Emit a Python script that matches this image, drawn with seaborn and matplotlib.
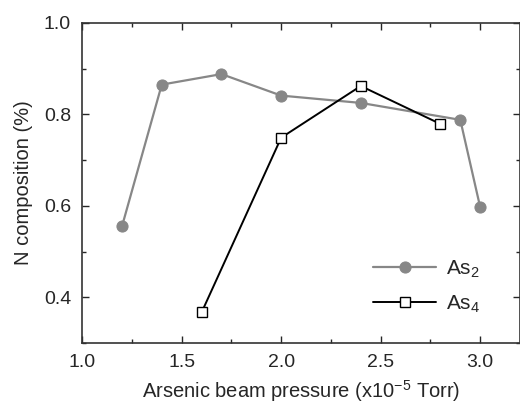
import numpy as np
import pandas as pd
import matplotlib
matplotlib.use('Agg')
import matplotlib.pyplot as plt
import seaborn as sns
from matplotlib.ticker import MultipleLocator


# Data

as2_pressure = [1.2, 1.4, 1.7, 2.0, 2.4, 2.9, 3.0]
as2_n = [0.555, 0.865, 0.888, 0.841, 0.825, 0.788, 0.597]

as4_pressure = [1.6, 2.0, 2.4, 2.8]
as4_n = [0.367, 0.749, 0.862, 0.779]


# Style

sns.set_style('ticks')
plt.rcParams['font.family'] = ['Liberation Sans', 'DejaVu Sans']
plt.rcParams['mathtext.fontset'] = 'custom'
plt.rcParams['mathtext.rm'] = 'Liberation Sans'
plt.rcParams['mathtext.it'] = 'Liberation Sans'


# Plot

fig = plt.figure(figsize=(5.2, 4.08), dpi=100)
ax = fig.add_axes([0.158, 0.159, 0.842, 0.785])

sns.lineplot(x=as2_pressure, y=as2_n, ax=ax, color='#878787', lw=1.6,
             marker='o', markersize=8, markeredgecolor='#878787',
             label='As$_2$', sort=False)
sns.lineplot(x=as4_pressure, y=as4_n, ax=ax, color='black', lw=1.4,
             marker='s', markersize=6.5, markerfacecolor='white',
             markeredgecolor='black', markeredgewidth=1.0,
             label='As$_4$', sort=False)

ax.set_xlim(1.0, 3.2)
ax.set_ylim(0.3, 1.0)
ax.xaxis.set_major_locator(MultipleLocator(0.5))
ax.xaxis.set_minor_locator(MultipleLocator(0.25))
ax.yaxis.set_major_locator(MultipleLocator(0.2))
ax.yaxis.set_minor_locator(MultipleLocator(0.1))
ax.tick_params(which='both', direction='in', top=True, right=True,
               width=1.0, labelsize=14, pad=8)
ax.tick_params(which='major', length=5)
ax.tick_params(which='minor', length=3)
ax.set_xticks([1.0, 1.5, 2.0, 2.5, 3.0])
ax.set_xticklabels(['1.0', '1.5', '2.0', '2.5', '3.0'])
ax.set_yticks([0.4, 0.6, 0.8, 1.0])
ax.set_yticklabels(['0.4', '0.6', '0.8', '1.0'])

for s in ax.spines.values():
    s.set_linewidth(1.2)
    s.set_color('#333333')

ax.set_xlabel('Arsenic beam pressure (x10$^{-5}$ Torr)', fontsize=14.5, labelpad=5)
ax.set_ylabel('N composition (%)', fontsize=14.5, labelpad=8)

ax.legend(loc='upper left', bbox_to_anchor=(0.665, 0.264), frameon=False,
          fontsize=15, handlelength=3.0, labelspacing=0.65, handletextpad=0.5,
          borderpad=0, borderaxespad=0)

fig.savefig('out.png', dpi=100)
